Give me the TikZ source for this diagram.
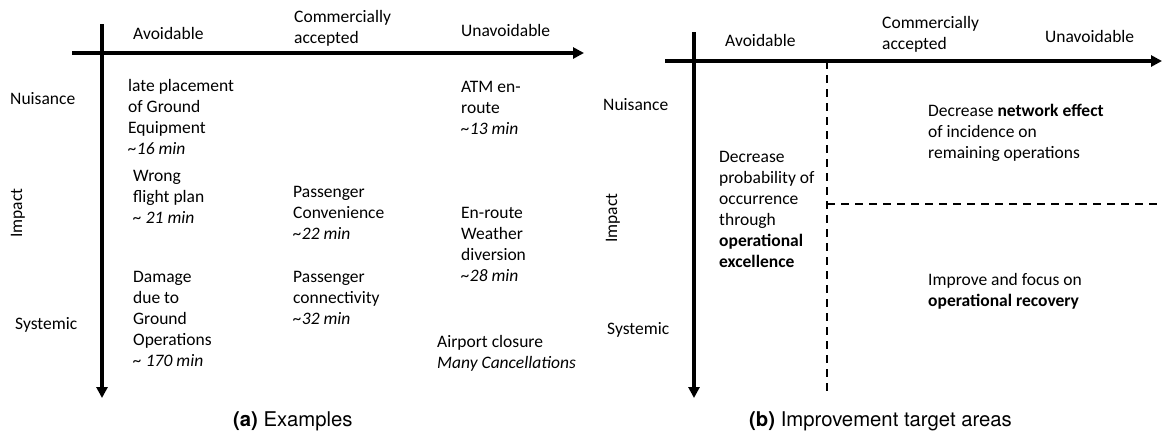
\documentclass[tikz,border=0pt]{standalone}
\usepackage{fontspec}
\setmainfont{Carlito}
\newfontfamily\capfont{TeX Gyre Heros}
\usetikzlibrary{arrows.meta}
\begin{document}
\begin{tikzpicture}[x=1pt,y=-1pt,
  axis/.style={line width=4pt,-{Triangle[length=11pt,width=11pt]}},
  split/.style={line width=1.9pt,dash pattern=on 8pt off 6pt},
  txt/.style={anchor=north west,inner sep=0pt,align=left,font=\fontsize{17.5}{21}\selectfont},
  captext/.style={anchor=west,inner sep=0pt,font=\capfont\fontsize{20.3}{24}\selectfont}]
\useasboundingbox (0,0) rectangle (1163,437);

% ---------- (a) Examples ----------
\coordinate (aL) at (72,53);  \coordinate (aR) at (584,53);
\coordinate (aT) at (102,24); \coordinate (aB) at (102,398);
\draw[axis] (aL) -- (aR);
\draw[axis] (aT) -- (aB);

\node[txt] (aAvoid) at (133,25) {\strut Avoidable};
\node[txt] (aComm) at (294,8) {\strut Commercially\\accepted};
\node[txt] (aUnav) at (461,22) {\strut Unavoidable};
\node[txt] (aNuis) at (10,90) {\strut Nuisance};
\node[txt] (aSyst) at (15,315) {\strut Systemic};
\node[inner sep=0pt,rotate=90,font=\fontsize{17.5}{21}\selectfont] (aImp) at (18,213) {Impact};

\node[txt] (ex1) at (128,77) {\strut late placement\\of Ground\\Equipment\\\textit{\textasciitilde16 min}};
\node[txt] (ex2) at (461,78) {\strut ATM en-\\route\\\textit{\textasciitilde13 min}};
\node[txt] (ex3) at (133,167) {\strut Wrong\\flight plan\\\textit{\textasciitilde\ 21 min}};
\node[txt] (ex4) at (293,183) {\strut Passenger\\Convenience\\\textit{\textasciitilde22 min}};
\node[txt] (ex5) at (461,204) {\strut En-route\\Weather\\diversion\\\textit{\textasciitilde28 min}};
\node[txt] (ex6) at (133,268) {\strut Damage\\due to\\Ground\\Operations\\\textit{\textasciitilde\ 170 min}};
\node[txt] (ex7) at (293,268) {\strut Passenger\\connectivity\\\textit{\textasciitilde32 min}};
\node[txt] (ex8) at (437,333) {\strut Airport closure\\\textit{Many Cancellations}};

\node[captext] (capA) at (233,421) {\textbf{(a)} Examples};

% ---------- (b) Improvement target areas ----------
\coordinate (bL) at (665,61);  \coordinate (bR) at (1162,61);
\coordinate (bT) at (694,32);  \coordinate (bB) at (694,398);
\draw[axis] (bL) -- (bR);
\draw[axis] (bT) -- (bB);

\coordinate (dTop) at (827,61); \coordinate (dBot) at (827,395);
\coordinate (dMid) at (827,204); \coordinate (dEnd) at (1163,204);
\draw[split] (dTop) -- (dBot);
\draw[split] (dMid) -- (dEnd);

\node[txt] (bAvoid) at (725,32) {\strut Avoidable};
\node[txt] (bComm) at (882,14) {\strut Commercially\\accepted};
\node[txt] (bUnav) at (1045,28) {\strut Unavoidable};
\node[txt] (bNuis) at (603,96) {\strut Nuisance};
\node[txt] (bSyst) at (607,320) {\strut Systemic};
\node[inner sep=0pt,rotate=90,font=\fontsize{17.5}{21}\selectfont] (bImp) at (613,218) {Impact};

\node[txt] (t1) at (719,148) {\strut Decrease\\probability of\\occurrence\\through\\\textbf{operational}\\\textbf{excellence}};
\node[txt] (t2) at (928,102) {\strut Decrease \textbf{network effect}\\of incidence on\\remaining operations};
\node[txt] (t3) at (928,271) {\strut Improve and focus on\\\textbf{operational recovery}};

\node[captext] (capB) at (749,421) {\textbf{(b)} Improvement target areas};
\end{tikzpicture}
\end{document}
